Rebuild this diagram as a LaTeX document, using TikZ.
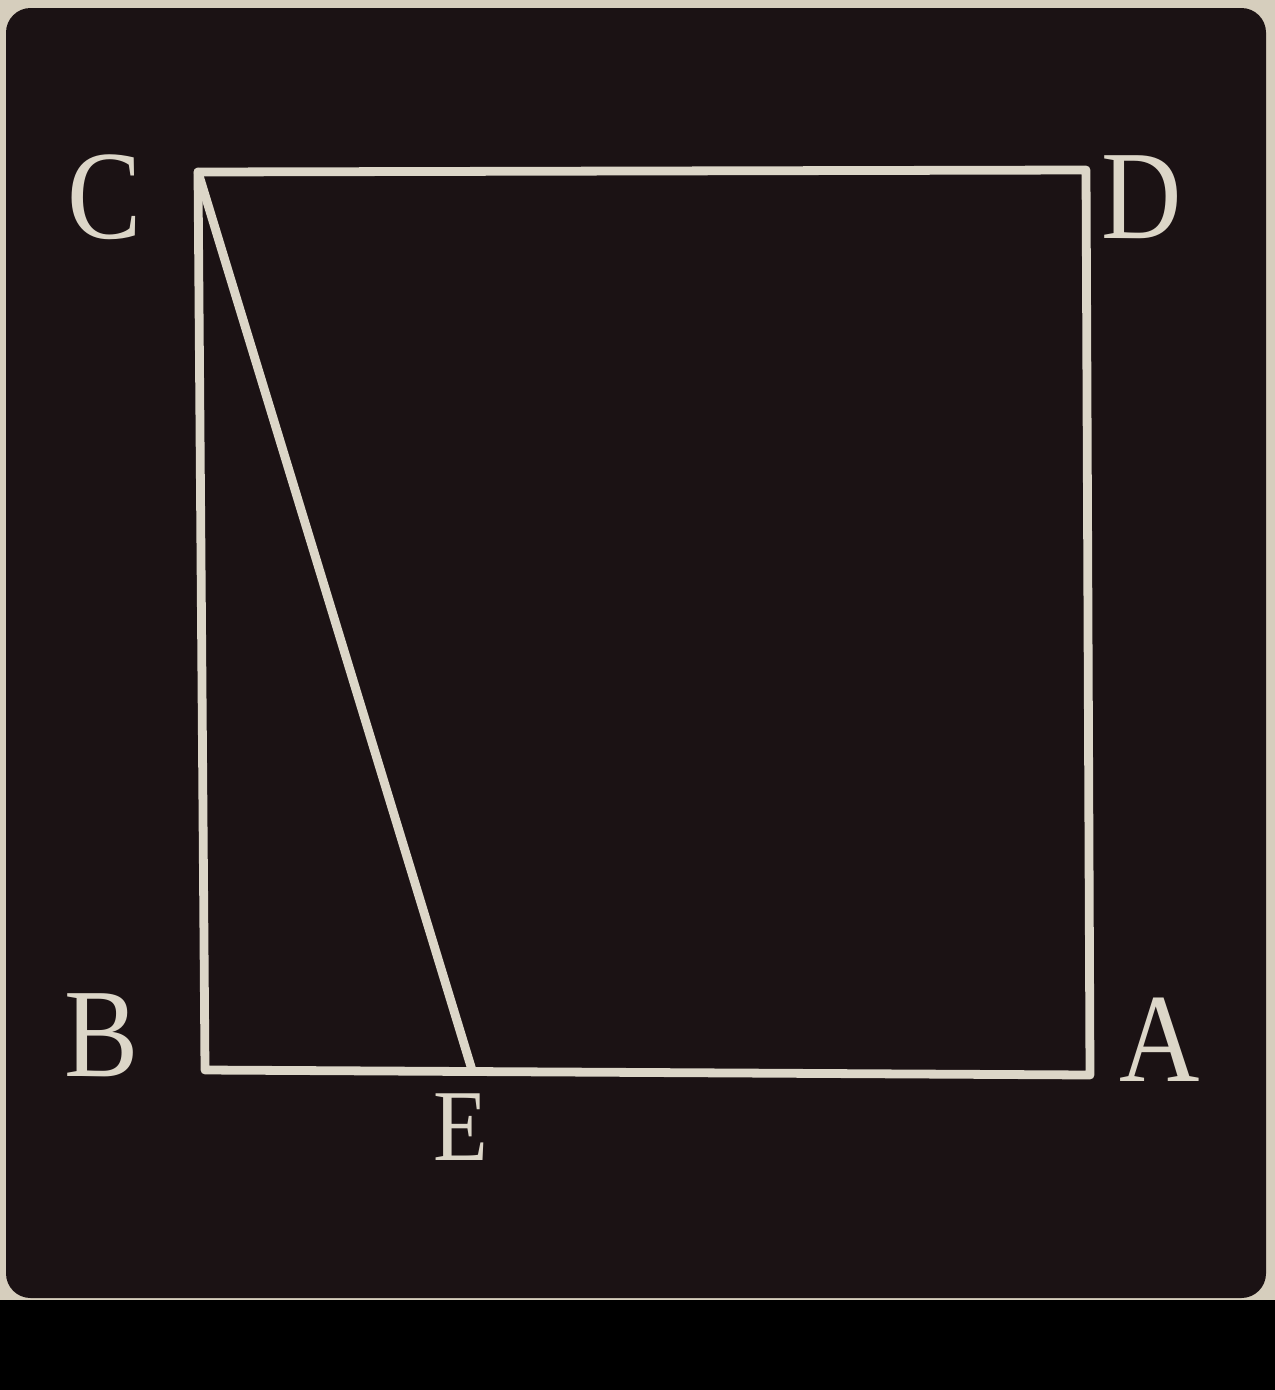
\documentclass[tikz,border=0pt]{standalone}
\usepackage{fontspec}
\setmainfont{Liberation Serif}
\definecolor{paper}{HTML}{D6CEBD}
\definecolor{ink}{HTML}{1B1214}
\definecolor{chalk}{HTML}{DCD6C8}
\begin{document}
\begin{tikzpicture}[x=0.02cm,y=-0.02cm,
  edge/.style={draw=chalk,line width=5pt,line cap=round,line join=round},
  lbl/.style={text=chalk,font=\fontsize{72}{74}\selectfont,inner sep=0pt,xscale=0.88},
  lbls/.style={lbl,font=\fontsize{58}{60}\selectfont}]
\useasboundingbox (0,0) rectangle (1275,1390);
\fill[paper] (0,0) rectangle (1275,1300);
\fill[ink,rounded corners=14pt] (6,8) rectangle (1266,1298);
\fill[black] (0,1300) rectangle (1275,1390);
\coordinate (C) at (198,172);
\coordinate (D) at (1086,170);
\coordinate (B) at (205,1070);
\coordinate (A) at (1090,1075);
\coordinate (E) at (472,1070);
\draw[edge] (C) -- (D) -- (A) -- (B) -- cycle;
\draw[edge] (C) -- (E);
\node[lbl] (lC) at (105,197) {C};
\node[lbl] (lD) at (1142,197) {D};
\node[lbl] (lB) at (102,1035) {B};
\node[lbl] (lA) at (1160,1040) {A};
\node[lbls] (lE) at (461,1127) {E};
\end{tikzpicture}
\end{document}
